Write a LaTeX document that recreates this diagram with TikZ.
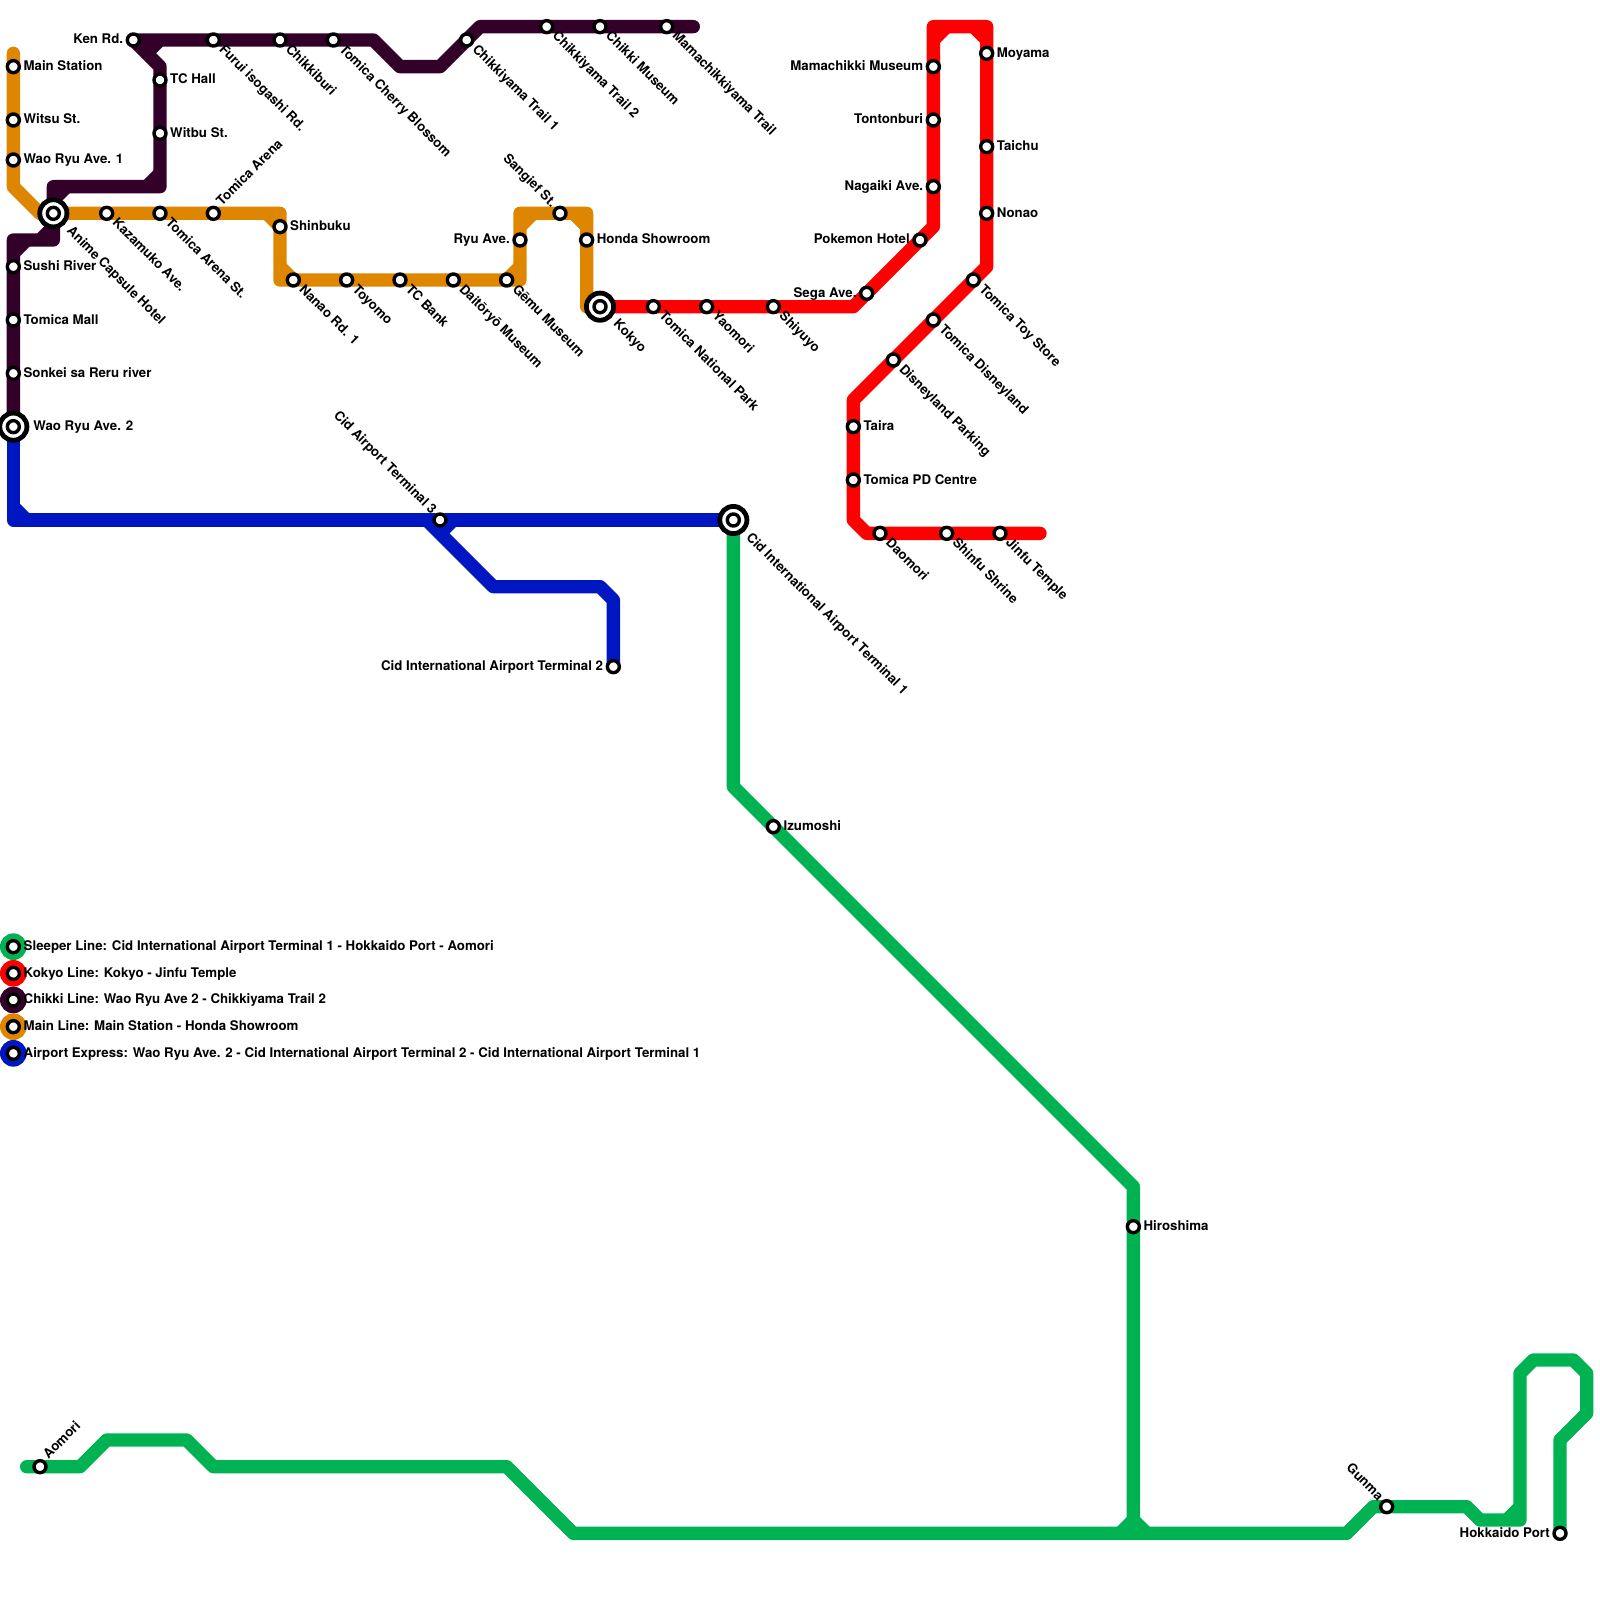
\documentclass[tikz,border=0pt]{standalone}
\usepackage{fontspec}
\setmainfont{TeX Gyre Heros}
\usetikzlibrary{backgrounds}
\definecolor{lgreen}{HTML}{00B251}
\definecolor{lred}{HTML}{FF0000}
\definecolor{lchikki}{HTML}{33002A}
\definecolor{lorange}{HTML}{DF8600}
\definecolor{lblue}{HTML}{0016C0}
\tikzset{
  x=0.25cm,y=-0.25cm,
  metro/.style={line width=0.25cm,line join=round,line cap=round},
  stationdot/.style={circle,draw=black,fill=white,line width=0.064cm,minimum size=0.225cm,inner sep=0},
  hubdot/.style={circle,draw=black,fill=white,line width=0.09cm,minimum size=0.51cm,inner sep=0},
  hubinner/.style={circle,draw=black,fill=white,line width=0.064cm,minimum size=0.225cm,inner sep=0},
  lbl/.style={font=\fontsize{7.08pt}{8pt}\selectfont\bfseries,inner sep=0,text=black},
  legdisc/.style={circle,fill=#1,minimum size=0.5cm,inner sep=0},
}
% \stR id x y text : text to the right, \stL to the left,
% \stD rotated -45 running away down right, \stU rotated -45 ending at the station, \stA rotated 45
\newcommand{\stR}[4]{\node[stationdot] (#1) at (#2,#3) {};
  \path (#1.center) ++(0.74,0.3) node[lbl,anchor=base west] (#1-t) {#4};}
\newcommand{\stL}[4]{\node[stationdot] (#1) at (#2,#3) {};
  \path (#1.center) ++(-0.74,0.3) node[lbl,anchor=base east] (#1-t) {#4};}
\newcommand{\stD}[4]{\node[stationdot] (#1) at (#2,#3) {};
  \path (#1.center) ++(0.37,0.74) node[lbl,anchor=base west,rotate=-45] (#1-t) {#4};}
\newcommand{\stU}[4]{\node[stationdot] (#1) at (#2,#3) {};
  \path (#1.center) ++(-0.64,-0.39) node[lbl,anchor=base east,rotate=-45] (#1-t) {#4};}
\newcommand{\stA}[4]{\node[stationdot] (#1) at (#2,#3) {};
  \path (#1.center) ++(0.62,-0.51) node[lbl,anchor=base west,rotate=45] (#1-t) {#4};}
\newcommand{\hub}[3]{\node[hubdot] (#1) at (#2,#3) {}; \node[hubinner] at (#1.center) {};}
\newcommand{\legend}[3]{\node[legdisc=#2] (#1) at (1,#3) {}; \node[stationdot] at (#1.center) {};
  \path (#1.center) ++(0.75,0.28) coordinate (#1-a);}
\begin{document}
\begin{tikzpicture}
\useasboundingbox (0,0) rectangle (120,120);
% main line
\stR{mainst}{1}{5}{Main Station}
\stR{witsu}{1}{9}{Witsu St.}
\stR{waoone}{1}{12}{Wao Ryu Ave. 1}
\hub{anime}{4}{16}
\path (anime.center) ++(0.95,1.35) node[lbl,anchor=base west,rotate=-45] (anime-t) {Anime Capsule Hotel};
\stD{kazamuko}{8}{16}{Kazamuko Ave.}
\stD{arenast}{12}{16}{Tomica Arena St.}
\stA{arena}{16}{16}{Tomica Arena}
\stR{shinbuku}{21}{17}{Shinbuku}
\stD{nanao}{22}{21}{Nanao Rd. 1}
\stD{toyomo}{26}{21}{Toyomo}
\stD{tcbank}{30}{21}{TC Bank}
\stD{daitoryo}{34}{21}{Daitōryō Museum}
\stD{gemu}{38}{21}{Gēmu Museum}
\stL{ryu}{39}{18}{Ryu Ave.}
\stU{sangief}{42}{16}{Sangief St.}
\stR{honda}{44}{18}{Honda Showroom}
\hub{kokyo}{45}{23}
\path (kokyo.center) ++(0.95,1.35) node[lbl,anchor=base west,rotate=-45] (kokyo-t) {Kokyo};
% kokyo line
\stD{nationalpark}{49}{23}{Tomica National Park}
\stD{yaomori}{53}{23}{Yaomori}
\stD{shiyuyo}{58}{23}{Shiyuyo}
\stL{sega}{65}{22}{Sega Ave.}
\stL{pokemon}{69}{18}{Pokemon Hotel}
\stL{nagaiki}{70}{14}{Nagaiki Ave.}
\stL{tontonburi}{70}{9}{Tontonburi}
\stL{mamachikki}{70}{5}{Mamachikki Museum}
\stR{moyama}{74}{4}{Moyama}
\stR{taichu}{74}{11}{Taichu}
\stR{nonao}{74}{16}{Nonao}
\stD{toystore}{73}{21}{Tomica Toy Store}
\stD{disneyland}{70}{24}{Tomica Disneyland}
\stD{parking}{67}{27}{Disneyland Parking}
\stR{taira}{64}{32}{Taira}
\stR{pdcentre}{64}{36}{Tomica PD Centre}
\stD{daomori}{66}{40}{Daomori}
\stD{shinfu}{71}{40}{Shinfu Shrine}
\stD{jinfu}{75}{40}{Jinfu Temple}
\coordinate (redend) at (78,40);
% chikki line
\stR{sushi}{1}{20}{Sushi River}
\stR{mall}{1}{24}{Tomica Mall}
\stR{sonkei}{1}{28}{Sonkei sa Reru river}
\hub{waotwo}{1}{32}
\path (waotwo.center) ++(1.48,0.3) node[lbl,anchor=base west] (waotwo-t) {Wao Ryu Ave. 2};
\stR{witbu}{12}{10}{Witbu St.}
\stR{tchall}{12}{6}{TC Hall}
\stL{ken}{10}{3}{Ken Rd.}
\stD{furui}{16}{3}{Furui isogashi Rd.}
\stD{chikkiburi}{21}{3}{Chikkiburi}
\stD{cherry}{25}{3}{Tomica Cherry Blossom}
\stD{trailone}{35}{3}{Chikkiyama Trail 1}
\stD{trailtwo}{41}{2}{Chikkiyama Trail 2}
\stD{chikkimuseum}{45}{2}{Chikki Museum}
\stD{mamatrail}{50}{2}{Mamachikkiyama Trail}
\coordinate (chikkiend) at (52,2);
% airport express
\stU{tthree}{33}{39}{Cid Airport Terminal 3}
\stL{ttwo}{46}{50}{Cid International Airport Terminal 2}
\hub{tone}{55}{39}
\path (tone.center) ++(0.9,1.35) node[lbl,anchor=base west,rotate=-45] (tone-t) {Cid International Airport Terminal 1};
% sleeper line
\stR{izumoshi}{58}{62}{Izumoshi}
\stR{hiroshima}{85}{92}{Hiroshima}
\stU{gunma}{104}{113}{Gunma}
\stL{hokkaido}{117}{115}{Hokkaido Port}
\stA{aomori}{3}{110}{Aomori}
\coordinate (greenend) at (2,110);
% legend
\legend{legsleeper}{lgreen}{71}
\legend{legkokyo}{lred}{73}
\legend{legchikki}{lchikki}{75}
\legend{legmain}{lorange}{77}
\legend{legairport}{lblue}{79}
\node[lbl,anchor=base west] (legsleeper-t) at (legsleeper-a) {Sleeper Line: Cid International Airport Terminal 1 - Hokkaido Port - Aomori};
\node[lbl,anchor=base west] (legkokyo-t) at (legkokyo-a) {Kokyo Line: Kokyo - Jinfu Temple};
\node[lbl,anchor=base west] (legchikki-t) at (legchikki-a) {Chikki Line: Wao Ryu Ave 2 - Chikkiyama Trail 2};
\node[lbl,anchor=base west] (legmain-t) at (legmain-a) {Main Line: Main Station - Honda Showroom};
\node[lbl,anchor=base west] (legairport-t) at (legairport-a) {Airport Express: Wao Ryu Ave. 2 - Cid International Airport Terminal 2 - Cid International Airport Terminal 1};
\begin{scope}[on background layer]
% airport express (under)
\draw[metro,lblue] (waotwo.center) -- (1,39) -- (tthree.center) -- (tone.center);
\draw[metro,lblue,line cap=butt] (1,38) -- (2,39);
\draw[metro,lblue] (32,39) -- (37,44) -- (45,44) -- (46,45) -- (ttwo.center);
\draw[metro,lblue,line cap=butt] (33,40) -- (34,39);
% sleeper
\draw[metro,lgreen] (tone.center) -- (55,59) -- (izumoshi.center) -- (85,89) -- (hiroshima.center) -- (85,115);
\draw[metro,lgreen,line cap=butt] (84,115) -- (85,114) -- (86,115);
\draw[metro,lgreen] (greenend) -- (aomori.center) -- (6,110) -- (8,108) -- (14,108) -- (16,110) -- (38,110) -- (43,115) -- (101,115) -- (103,113) -- (gunma.center) -- (110,113) -- (111,114) -- (114,114) -- (114,103) -- (115,102) -- (118,102) -- (119,103) -- (119,106) -- (117,108) -- (hokkaido.center);
\draw[metro,lgreen,line cap=butt] (113,114) -- (114,113);
% main line
\draw[metro,lorange] (mainst.center) ++(0,-1) -- (mainst.center) -- (witsu.center) -- (waoone.center) -- (1,14) -- (3,16) -- (anime.center) -- (kazamuko.center) -- (arenast.center) -- (arena.center) -- (21,16) -- (shinbuku.center) -- (21,21) -- (nanao.center) -- (toyomo.center) -- (tcbank.center) -- (daitoryo.center) -- (gemu.center) -- (39,21) -- (ryu.center) -- (39,16) -- (sangief.center) -- (44,16) -- (honda.center) -- (44,23) -- (kokyo.center);
\draw[metro,lorange,line cap=butt] (20,16) -- (21,17);
\draw[metro,lorange,line cap=butt] (21,20) -- (22,21);
\draw[metro,lorange,line cap=butt] (38,21) -- (39,20);
\draw[metro,lorange,line cap=butt] (39,17) -- (40,16);
\draw[metro,lorange,line cap=butt] (43,16) -- (44,17);
% chikki line
\draw[metro,lchikki] (waotwo.center) -- (sonkei.center) -- (mall.center) -- (sushi.center) -- (1,18) -- (4,18) -- (anime.center) -- (4,14) -- (12,14) -- (witbu.center) -- (tchall.center) -- (12,5) -- (ken.center) -- (furui.center) -- (chikkiburi.center) -- (cherry.center) -- (28,3) -- (30,5) -- (33,5) -- (trailone.center) -- (36,2) -- (trailtwo.center) -- (chikkimuseum.center) -- (mamatrail.center) -- (chikkiend);
\draw[metro,lchikki,line cap=butt] (1,19) -- (2,18);
\draw[metro,lchikki,line cap=butt] (3,18) -- (4,17);
\draw[metro,lchikki,line cap=butt] (4,15) -- (5,14);
\draw[metro,lchikki,line cap=butt] (11,14) -- (12,13);
\draw[metro,lchikki,line cap=butt] (11,4) -- (12,3);
% kokyo line
\draw[metro,lred] (kokyo.center) -- (nationalpark.center) -- (yaomori.center) -- (shiyuyo.center) -- (64,23) -- (sega.center) -- (pokemon.center) -- (70,17) -- (nagaiki.center) -- (tontonburi.center) -- (mamachikki.center) -- (70,2) -- (74,2) -- (moyama.center) -- (taichu.center) -- (nonao.center) -- (74,20) -- (toystore.center) -- (disneyland.center) -- (parking.center) -- (64,30) -- (taira.center) -- (pdcentre.center) -- (64,39) -- (65,40) -- (daomori.center) -- (shinfu.center) -- (jinfu.center) -- (redend);
\draw[metro,lred,line cap=butt] (70,3) -- (71,2);
\draw[metro,lred,line cap=butt] (73,2) -- (74,3);
\end{scope}
\end{tikzpicture}
\end{document}
